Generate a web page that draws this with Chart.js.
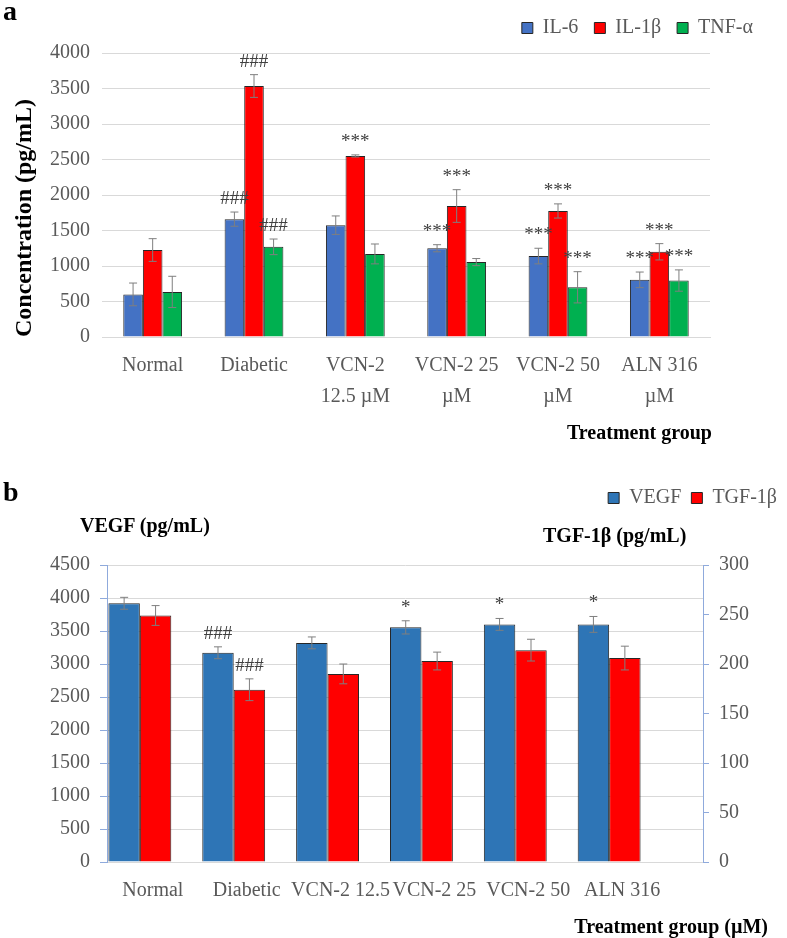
<!DOCTYPE html>
<html>
<head>
<meta charset="utf-8">
<script src="https://cdn.jsdelivr.net/npm/chart.js@4.4.1/dist/chart.umd.min.js"></script>
<style>
  body { margin: 0; background: #fff; width: 787px; height: 938px; position: relative; overflow: hidden; font-family: "Liberation Serif", serif; }
  .box { position: absolute; left: 0; width: 787px; }
  #boxA { top: 0; height: 445px; }
  #boxB { top: 450px; height: 488px; }
  .txt { position: absolute; font-weight: bold; color: #000; white-space: nowrap; line-height: 1; font-family: "Liberation Serif", serif; }
</style>
</head>
<body>
<div class="box" id="boxA"><canvas id="chartA"></canvas></div>
<div class="box" id="boxB"><canvas id="chartB"></canvas></div>

<div class="txt" style="left:3px; top:-3px; font-size:28px;">a</div>
<div class="txt" style="right:75px; top:422px; font-size:20px;">Treatment group</div>
<div class="txt" style="left:3px; top:478px; font-size:28px;">b</div>
<div class="txt" style="left:80px; top:515px; font-size:20px;">VEGF (pg/mL)</div>
<div class="txt" style="left:543px; top:525px; font-size:20px;">TGF-1β (pg/mL)</div>
<div class="txt" style="right:19px; top:916px; font-size:20px;">Treatment group (µM)</div>

<script>
// ---- panel a : cytokines ----
var categoriesA = ['Normal', 'Diabetic', ['VCN-2', '12.5 µM'], ['VCN-2 25', 'µM'], ['VCN-2 50', 'µM'], ['ALN 316', 'µM']];
var il6 = [600, 1660, 1575, 1250, 1140, 805];
var il6Err = [160, 100, 130, 50, 110, 110];
var il6Marks = ['', '###', '', '***', '***', '***'];
var il1b = [1225, 3535, 2550, 1845, 1775, 1200];
var il1bErr = [160, 160, 15, 230, 100, 115];
var il1bMarks = ['', '###', '***', '***', '***', '***'];
var tnf = [635, 1270, 1170, 1055, 700, 795];
var tnfErr = [220, 110, 140, 50, 220, 150];
var tnfMarks = ['', '###', '', '', '***', '***'];
var ticksA = [0, 500, 1000, 1500, 2000, 2500, 3000, 3500, 4000];

// ---- panel b : VEGF / TGF-1b ----
var categoriesB = ['Normal', 'Diabetic', 'VCN-2 12.5', 'VCN-2 25', 'VCN-2 50', 'ALN 316'];
var vegf = [3920, 3170, 3320, 3555, 3600, 3600];
var vegfErr = [90, 90, 90, 100, 90, 120];
var vegfMarks = ['', '###', '', '*', '*', '*'];
var tgf = [249, 174, 190, 203, 214, 206];
var tgfErr = [10, 11, 10, 9, 11, 12];
var tgfMarks = ['', '###', '', '', '', ''];
var ticksVegf = [0, 4500, 500];
var ticksTgf = [0, 300, 50];

var serif = '"Liberation Serif", "Times New Roman", serif';
var tickGray = '#595959';
var gridGray = '#D9D9D9';
var axisBlue = '#8FAADC';
var barBorder = '#262626';

function plain(v) { return String(v); }

// error bars + significance marks, drawn on top of the bars
var errorBars = {
    id: 'errorBars',
    afterDatasetsDraw: function (chart) {
        var ctx = chart.ctx;
        chart.data.datasets.forEach(function (ds, di) {
            var meta = chart.getDatasetMeta(di);
            var yScale = chart.scales[meta.yAxisID];
            meta.data.forEach(function (bar, i) {
                var v = meta.controller.getParsed(i).y;
                var e = ds.errors[i];
                var top = yScale.getPixelForValue(v + e);
                var bot = yScale.getPixelForValue(v - e);
                ctx.save();
                ctx.strokeStyle = '#7F7F7F';
                ctx.lineWidth = 1;
                ctx.beginPath();
                ctx.moveTo(bar.x, top); ctx.lineTo(bar.x, bot);
                ctx.moveTo(bar.x - 4, top); ctx.lineTo(bar.x + 4, top);
                ctx.moveTo(bar.x - 4, bot); ctx.lineTo(bar.x + 4, bot);
                ctx.stroke();
                if (ds.marks[i]) {
                    ctx.fillStyle = '#404040';
                    ctx.font = '19px ' + serif;
                    ctx.textAlign = 'center';
                    ctx.textBaseline = 'alphabetic';
                    ctx.fillText(ds.marks[i], bar.x, top - 8);
                }
                ctx.restore();
            });
        });
    }
};

function legendOpts(pad) {
    return {
        position: 'top',
        align: 'end',
        labels: { boxWidth: 11, boxHeight: 11, padding: pad, color: tickGray, font: { family: serif, size: 20 } }
    };
}

function spacer(pos, size) {
    return {
        type: 'linear', position: pos, display: true,
        ticks: { display: false }, grid: { display: false, drawTicks: false }, border: { display: false },
        afterFit: function (s) { if (pos === 'top') { s.height = size; } else { s.width = size; } }
    };
}

function barSet(label, values, errors, marks, color, catPct, yId) {
    return {
        label: label, data: values, errors: errors, marks: marks,
        backgroundColor: color, borderColor: barBorder, borderWidth: 1,
        categoryPercentage: catPct, barPercentage: 1, xAxisID: 'x', yAxisID: yId
    };
}

new Chart(document.getElementById('chartA'), {
    type: 'bar',
    data: {
        labels: categoriesA,
        datasets: [
            barSet('IL-6', il6, il6Err, il6Marks, '#4472C4', 0.58, 'y'),
            barSet('IL-1β', il1b, il1bErr, il1bMarks, '#FF0000', 0.58, 'y'),
            barSet('TNF-α', tnf, tnfErr, tnfMarks, '#00B050', 0.58, 'y')
        ]
    },
    options: {
        responsive: true,
        maintainAspectRatio: false,
        animation: false,
        layout: { padding: { top: 2, left: 6, right: 18, bottom: 0 } },
        plugins: { legend: legendOpts(16), tooltip: { enabled: false } },
        scales: {
            x: {
                grid: { display: false, drawTicks: false },
                border: { color: gridGray },
                ticks: { color: tickGray, padding: 13, maxRotation: 0, autoSkip: false, font: { family: serif, size: 20, lineHeight: 1.55 } },
                afterFit: function (s) { s.height = 108; }
            },
            y: {
                min: ticksA[0], max: ticksA[ticksA.length - 1],
                ticks: { stepSize: ticksA[1] - ticksA[0], callback: plain, color: tickGray, padding: 12, font: { family: serif, size: 20 } },
                grid: { color: gridGray, drawTicks: false },
                border: { display: false },
                title: { display: true, text: 'Concentration (pg/mL)', align: 'start', color: '#000', padding: { top: 4, bottom: 4 }, font: { family: serif, size: 24, weight: 'bold' } },
                afterFit: function (s) { s.width = 96; }
            },
            gap: spacer('top', 5),
            side: spacer('right', 59)
        }
    },
    plugins: [errorBars]
});

function toPoints(values) {
    return values.map(function (v, i) { return { x: i, y: v }; });
}

new Chart(document.getElementById('chartB'), {
    type: 'bar',
    data: {
        datasets: [
            barSet('VEGF', toPoints(vegf), vegfErr, vegfMarks, '#2E75B6', 0.67, 'y'),
            barSet('TGF-1β', toPoints(tgf), tgfErr, tgfMarks, '#FF0000', 0.67, 'y1')
        ]
    },
    options: {
        responsive: true,
        maintainAspectRatio: false,
        animation: false,
        layout: { padding: { top: 28, left: 0, right: 0, bottom: 0 } },
        plugins: { legend: legendOpts(10), tooltip: { enabled: false } },
        scales: {
            x: {
                type: 'linear', min: -0.35, max: 6, bounds: 'data', offset: false,
                afterBuildTicks: function (s) { s.ticks = categoriesB.map(function (c, i) { return { value: i }; }); },
                grid: { display: false, drawTicks: false, offset: false },
                border: { color: gridGray },
                ticks: {
                    color: tickGray, padding: 17, labelOffset: 13, maxRotation: 0, autoSkip: false,
                    font: { family: serif, size: 20 },
                    callback: function (v) { return categoriesB[v]; }
                },
                afterFit: function (s) { s.height = 76; }
            },
            y: {
                position: 'left',
                min: ticksVegf[0], max: ticksVegf[1],
                ticks: { stepSize: ticksVegf[2], callback: plain, color: tickGray, padding: 10, font: { family: serif, size: 20 } },
                grid: { color: gridGray, tickColor: axisBlue, tickLength: 7 },
                border: { color: axisBlue },
                afterFit: function (s) { s.width = 107; }
            },
            y1: {
                position: 'right',
                min: ticksTgf[0], max: ticksTgf[1],
                ticks: { stepSize: ticksTgf[2], callback: plain, color: tickGray, padding: 10, font: { family: serif, size: 20 } },
                grid: { drawOnChartArea: false, tickColor: axisBlue, tickLength: 6 },
                border: { color: axisBlue },
                afterFit: function (s) { s.width = 84; }
            },
            gap: spacer('top', 47)
        }
    },
    plugins: [errorBars]
});
</script>
</body>
</html>
